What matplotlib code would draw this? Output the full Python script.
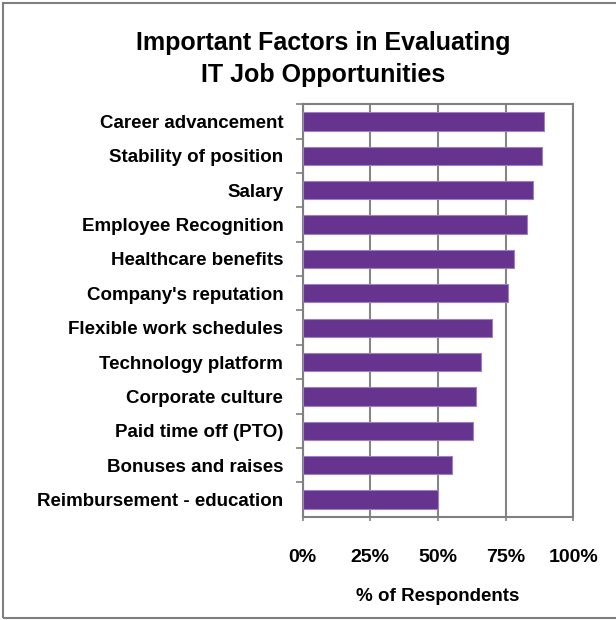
import matplotlib
matplotlib.use('Agg')
from matplotlib import pyplot as plt
from matplotlib.patches import Rectangle

# survey factors, top to bottom
factors = ['Career advancement', 'Stability of position', 'Salary',
           'Employee Recognition', 'Healthcare benefits', "Company's reputation",
           'Flexible work schedules', 'Technology platform', 'Corporate culture',
           'Paid time off (PTO)', 'Bonuses and raises', 'Reimbursement - education']
share = [0.89, 0.885, 0.85, 0.83, 0.78, 0.76, 0.70, 0.66, 0.64, 0.63, 0.55, 0.50]
xticks = [0, 0.25, 0.5, 0.75, 1.0]
xticklabels = ['0%', '25%', '50%', '75%', '100%']

plt.rcParams['font.family'] = ['Liberation Sans', 'DejaVu Sans']

fig = plt.figure(figsize=(6.16, 6.2), dpi=100)
ax = fig.add_axes([0.4914, 0.1666, 0.4393, 0.6652])

pos = list(range(len(factors)))
ax.barh(pos, share, height=0.53, color='#66348f', edgecolor='#9b80c2', linewidth=0.8, zorder=3)

ax.set_ylim(len(factors) - 0.5, -0.5)
ax.set_xlim(0, 1)
ax.set_yticks(pos)
ax.set_yticklabels(factors, fontsize=13.5, fontweight='bold')
ax.set_yticks([p + 0.5 for p in pos[:-1]] + [-0.5], minor=True)
ax.tick_params(axis='y', which='major', length=0, pad=14)
ax.tick_params(axis='y', which='minor', length=5, width=1.2, color='#808080', direction='out')

ax.set_xticks(xticks)
ax.set_xticklabels(xticklabels, fontsize=14, fontweight='bold')
ax.tick_params(axis='x', length=3, width=1.2, color='#808080', pad=20)
ax.set_xlabel('% of Respondents', fontsize=13.5, fontweight='bold', labelpad=16)

ax.grid(axis='x', color='#868686', linewidth=1.5, zorder=0)
for side in ['left', 'bottom', 'top', 'right']:
    ax.spines[side].set_color('#808080')
    ax.spines[side].set_linewidth(1.5)

fig.text(0.525, 0.905, 'Important Factors in Evaluating\nIT Job Opportunities',
         ha='center', va='center', fontsize=18, fontweight='bold', linespacing=1.45)

# outer chart frame
fig.patches.append(Rectangle((3 / 616, 2 / 620), 1.2, 615 / 620, transform=fig.transFigure,
                             fill=False, edgecolor='#7f7f7f', linewidth=1.5))

fig.savefig('out.png', dpi=100)
